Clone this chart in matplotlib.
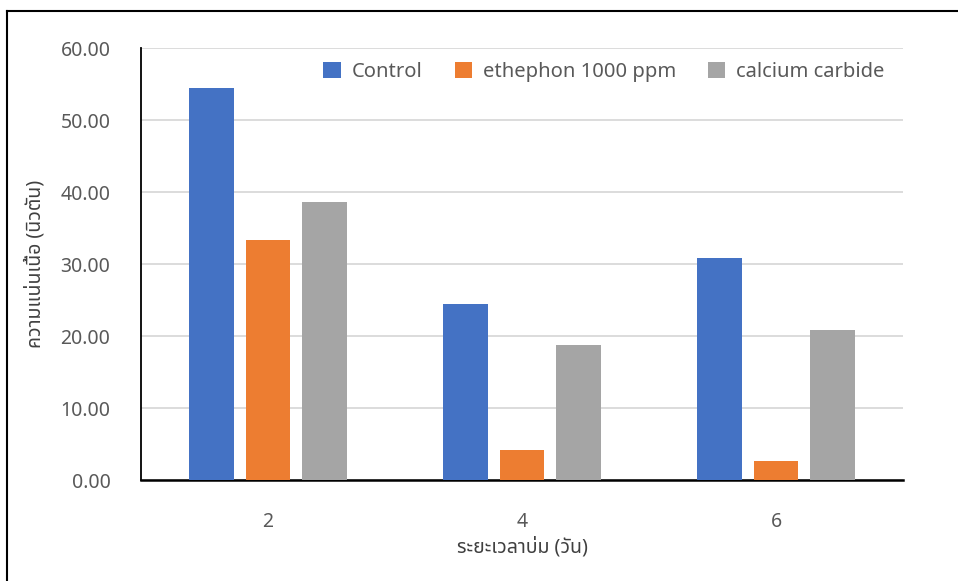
import numpy as np
import matplotlib
matplotlib.use("Agg")
import matplotlib.pyplot as plt
from matplotlib import font_manager
from matplotlib.ft2font import FT2Font

# ข้อมูล
days = ["2", "4", "6"]
control = [54.5, 24.4, 30.9]
ethephon = [33.4, 4.2, 2.6]
carbide = [38.6, 18.7, 20.8]
series_names = ["Control", "ethephon 1000 ppm", "calcium carbide"]
colors = ["#4472C4", "#ED7D31", "#A5A5A5"]


# หาฟอนต์ที่มีอักษรไทย
def find_thai_font():
    found = []
    for f in font_manager.fontManager.ttflist:
        try:
            cmap = FT2Font(f.fname).get_charmap()
        except Exception:
            continue
        if 0x0E04 in cmap and 0x0E19 in cmap:
            found.append(f.name)
    prefer = ["Noto Sans Thai", "Noto Sans Thai UI", "Loma", "Garuda", "Tlwg Typo"]
    for p in prefer:
        if p in found:
            return p
    return found[0] if found else None


thai = find_thai_font()
fams = ([thai] if thai else []) + ["DejaVu Sans"]
plt.rcParams["font.family"] = fams

fig = plt.figure(figsize=(9.58, 5.81), dpi=100)
ax = fig.add_axes([141 / 958, 1 - 480 / 581, 762 / 958, 432 / 581])

x = np.arange(len(days))
w = 0.175
step = 0.222
for i, (vals, name, c) in enumerate(zip([control, ethephon, carbide], series_names, colors)):
    ax.bar(x + (i - 1) * step, vals, width=w, color=c, label=name, zorder=3)

ax.set_xlim(-0.5, 2.5)
ax.set_ylim(0, 60)
ax.set_yticks(np.arange(0, 61, 10))
ax.set_yticklabels([f"{v:.2f}" for v in np.arange(0, 61, 10)])
ax.set_xticks(x)
ax.set_xticklabels(days)
ax.grid(axis="y", color="#D9D9D9", linewidth=1.3, zorder=0)
ax.tick_params(axis="both", length=0, labelsize=14, colors="#595959")
ax.tick_params(axis="y", pad=22)
ax.tick_params(axis="x", pad=23)
for s in ["top", "right"]:
    ax.spines[s].set_visible(False)
ax.spines["left"].set_color("black")
ax.spines["left"].set_linewidth(1.3)
ax.spines["bottom"].set_color("black")
ax.spines["bottom"].set_linewidth(1.8)

ax.set_xlabel("ระยะเวลาบ่ม (วัน)", fontsize=14, fontweight="bold", color="#404040", labelpad=4)
ax.set_ylabel("ความแน่นเนื้อ (นิวตัน)", fontsize=14, fontweight="bold", color="#404040", labelpad=11)

leg = ax.legend(loc="upper right", bbox_to_anchor=(1.0, 1.01), ncol=3, frameon=False,
                fontsize=14.5, handlelength=0.85, handleheight=0.85, columnspacing=1.6,
                handletextpad=0.55, labelcolor="#595959")

# กรอบรอบรูป
fig.add_artist(plt.Line2D([7 / 958, 1], [1 - 11 / 581] * 2, color="black", linewidth=1.5))
fig.add_artist(plt.Line2D([7 / 958] * 2, [0, 1 - 11 / 581], color="black", linewidth=1.5))

fig.savefig("out.png", dpi=100)
